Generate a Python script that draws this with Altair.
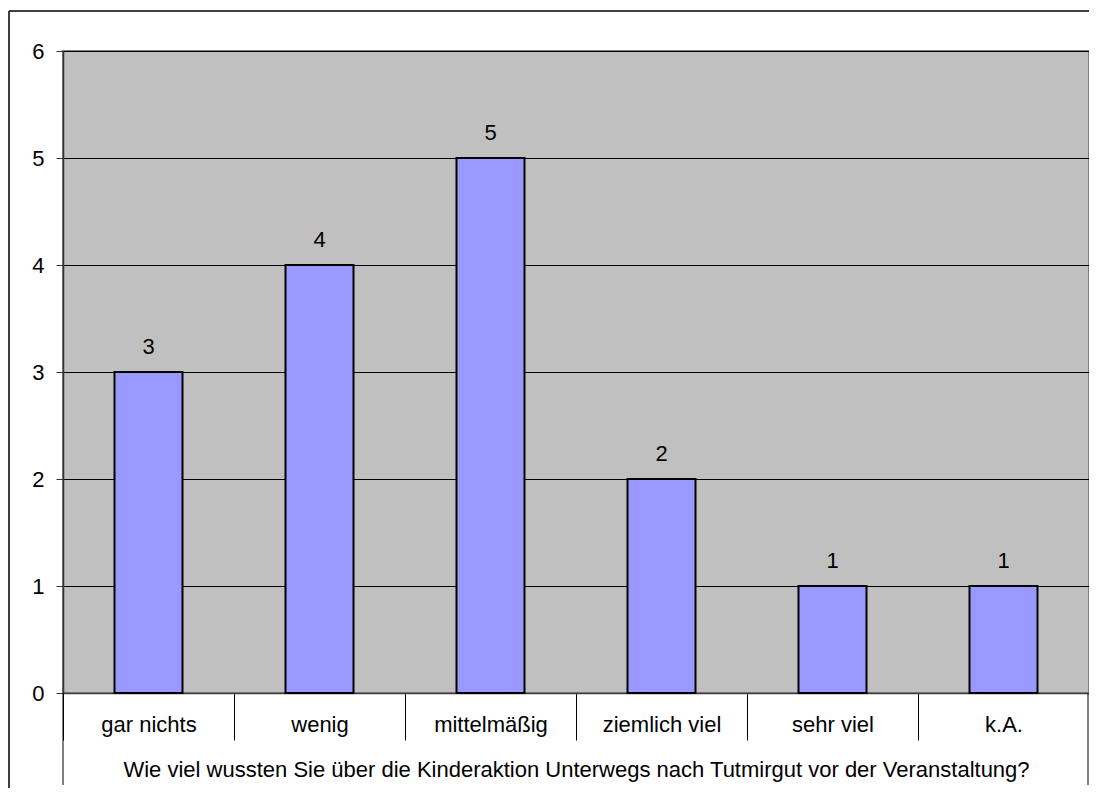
import altair as alt
import pandas as pd

categories = ["gar nichts", "wenig", "mittelmäßig", "ziemlich viel", "sehr viel", "k.A."]
counts = [3, 4, 5, 2, 1, 1]
y_ticks = [0, 1, 2, 3, 4, 5, 6]
x_title = "Wie viel wussten Sie über die Kinderaktion Unterwegs nach Tutmirgut vor der Veranstaltung?"

W = 1026
H = 642
FONT = "Liberation Sans"
FS = 22

df = pd.DataFrame({"cat": categories, "n": counts})

x_enc = alt.X(
    "cat:N",
    sort=categories,
    scale=alt.Scale(paddingInner=0, paddingOuter=0),
    axis=alt.Axis(
        title=x_title,
        titleFont=FONT,
        titleFontSize=FS,
        titleFontWeight="normal",
        titleColor="black",
        titleBaseline="alphabetic",
        titleY=83,
        labelAngle=0,
        labelFont=FONT,
        labelFontSize=FS,
        labelColor="black",
        labelBaseline="alphabetic",
        labelPadding=-8.5,
        tickBand="extent",
        tickSize=47,
        tickColor="black",
        tickWidth=1,
        domainColor="#404040",
        domainWidth=1.5,
        grid=False,
    ),
)

y_enc = alt.Y(
    "n:Q",
    scale=alt.Scale(domain=[0, 6], nice=False),
    axis=alt.Axis(
        title=None,
        values=y_ticks,
        format="d",
        labelFont=FONT,
        labelFontSize=FS,
        labelColor="black",
        labelPadding=12,
        tickSize=7,
        tickColor="#333333",
        domainColor="#333333",
        domainWidth=1.5,
        grid=True,
        gridColor="black",
        gridWidth=1,
    ),
)

base = alt.Chart(df)

bars = base.mark_bar(width=68, fill="#9999FF", stroke="black", strokeWidth=2).encode(
    x=x_enc, y=y_enc
)

labels = base.mark_text(
    font=FONT, fontSize=FS, color="black", baseline="alphabetic", dy=-18
).encode(x=alt.X("cat:N", sort=categories), y=alt.Y("n:Q"), text=alt.Text("n:Q"))

decor = alt.Chart(pd.DataFrame({"a": [0]}))

frame_top = decor.mark_rule(color="black", strokeWidth=1.5).encode(
    x=alt.value(-54), x2=alt.value(W), y=alt.value(-40)
)
frame_left = decor.mark_rule(color="black", strokeWidth=1.5).encode(
    x=alt.value(-54), y=alt.value(-40), y2=alt.value(H + 95)
)
ext_left = decor.mark_rule(color="black", strokeWidth=1).encode(
    x=alt.value(0), y=alt.value(H), y2=alt.value(H + 92)
)
ext_right = decor.mark_rule(color="black", strokeWidth=1).encode(
    x=alt.value(W - 1), y=alt.value(H), y2=alt.value(H + 92)
)

chart = (
    alt.layer(bars, labels, frame_top, frame_left, ext_left, ext_right)
    .properties(
        width=W,
        height=H,
        autosize=alt.AutoSizeParams(type="none"),
        padding={"left": 55, "top": 43, "right": 0, "bottom": 95},
        background="white",
        view=alt.ViewBackground(fill="#C0C0C0", stroke="#808080", strokeWidth=2),
    )
    .configure(font=FONT)
)

chart.save("out.html", embed_options={"renderer": "svg", "actions": False})
